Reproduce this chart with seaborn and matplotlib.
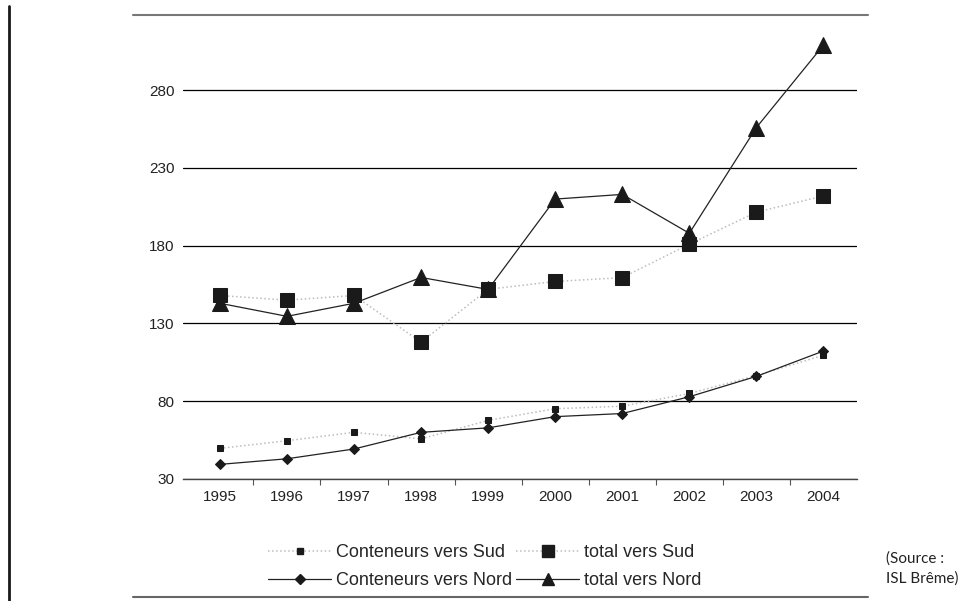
import matplotlib
matplotlib.use("Agg")
import matplotlib.pyplot as plt
import seaborn as sns
import pandas as pd
from matplotlib.lines import Line2D

years = [1995, 1996, 1997, 1998, 1999, 2000, 2001, 2002, 2003, 2004]
conteneurs_sud = [49.7, 54.6, 60.0, 55.8, 67.7, 75.2, 76.8, 85.0, 96.5, 109.6]
total_sud = [148.0, 145.0, 148.0, 118.0, 152.0, 157.0, 159.5, 181.0, 201.6, 212.0]
conteneurs_nord = [39.4, 43.0, 49.3, 60.0, 62.9, 70.1, 72.1, 82.9, 96.0, 112.3]
total_nord = [143.0, 134.6, 143.0, 159.6, 151.9, 210.0, 213.0, 188.0, 256.0, 309.0]
y_ticks = [30, 80, 130, 180, 230, 280]
labels = ["Conteneurs vers Sud", "total vers Sud", "Conteneurs vers Nord", "total vers Nord"]
source_text = "(Source :\nISL Brême)"

sns.set_theme(style="white")
plt.rcParams["font.family"] = ["Liberation Sans", "DejaVu Sans"]

W, H = 961, 601
fig = plt.figure(figsize=(W / 100, H / 100), dpi=100)
ax = fig.add_axes([183 / W, 1 - 479 / H, (857 - 183) / W, (479 - 42) / H])

mk = "#1a1a1a"
light = "#bdbdbd"

# total vers Nord
sns.lineplot(x=years, y=total_nord, ax=ax, color="#222222", lw=0.9, linestyle="-",
             marker="^", markersize=11, markerfacecolor=mk, markeredgecolor=mk,
             clip_on=False, zorder=3)
# total vers Sud
sns.lineplot(x=years, y=total_sud, ax=ax, color=light, lw=1.1, linestyle=":",
             marker="s", markersize=10, markerfacecolor=mk, markeredgecolor=mk,
             clip_on=False, zorder=4)
# Conteneurs vers Sud
sns.lineplot(x=years, y=conteneurs_sud, ax=ax, color=light, lw=1.1, linestyle=":",
             marker="s", markersize=4.5, markerfacecolor=mk, markeredgecolor=mk,
             clip_on=False, zorder=4)
# Conteneurs vers Nord
sns.lineplot(x=years, y=conteneurs_nord, ax=ax, color="#222222", lw=0.9, linestyle="-",
             marker="D", markersize=5, markerfacecolor=mk, markeredgecolor=mk,
             clip_on=False, zorder=5)

ax.set_xlim(years[0] - 0.55, years[-1] + 0.5)
ax.set_ylim(30, 311)
ax.set_yticks(y_ticks)
ax.set_yticklabels([str(v) for v in y_ticks])
ax.set_xticks(years)
ax.set_xticklabels([str(y) for y in years])
ax.set_xticks([y + 0.5 for y in years[:-1]], minor=True)
ax.tick_params(axis="x", which="major", length=0, pad=8, labelsize=11, colors="#222222")
ax.tick_params(axis="x", which="minor", length=4, width=0.8, color="#555555", direction="out", bottom=True)
ax.tick_params(axis="y", length=0, pad=6, labelsize=11, colors="#222222")
ax.grid(axis="y", color="black", lw=0.9)
ax.grid(axis="x", visible=False)
for s in ["left", "right", "top"]:
    ax.spines[s].set_visible(False)
ax.spines["bottom"].set_color("#444444")
ax.spines["bottom"].set_linewidth(1.0)
ax.set_xlabel("")
ax.set_ylabel("")

handles = [
    Line2D([], [], color=light, lw=1.1, linestyle=":", marker="s", markersize=4.5,
           markerfacecolor=mk, markeredgecolor=mk),
    Line2D([], [], color="#222222", lw=0.9, linestyle="-", marker="D", markersize=5,
           markerfacecolor=mk, markeredgecolor=mk),
    Line2D([], [], color=light, lw=1.1, linestyle=":", marker="s", markersize=9,
           markerfacecolor=mk, markeredgecolor=mk),
    Line2D([], [], color="#222222", lw=0.9, linestyle="-", marker="^", markersize=9,
           markerfacecolor=mk, markeredgecolor=mk),
]
leg_labels = [labels[0], labels[2], labels[1], labels[3]]
fig.legend(handles, leg_labels, ncol=2, loc="upper left",
           bbox_to_anchor=(268 / W, 1 - 544 / H), frameon=False,
           fontsize=13, handlelength=3.5, handletextpad=0.28,
           columnspacing=0.2, labelspacing=0.62, borderpad=0, borderaxespad=0)

fig.text(886 / W, 1 - 569 / H, source_text, family=["Lato", "DejaVu Sans"],
         fontsize=11, va="center", ha="left", color="#222222", linespacing=1.5)

# page decorations
fig.add_artist(Line2D([133 / W, 868 / W], [1 - 15 / H, 1 - 15 / H], color="#777777", lw=1.5))
fig.add_artist(Line2D([133 / W, 868 / W], [1 - 597 / H, 1 - 597 / H], color="#666666", lw=1.5))
fig.add_artist(Line2D([9 / W, 9 / W], [0, 1 - 6 / H], color="#1a1a1a", lw=2))

fig.savefig("out.png", dpi=100)
